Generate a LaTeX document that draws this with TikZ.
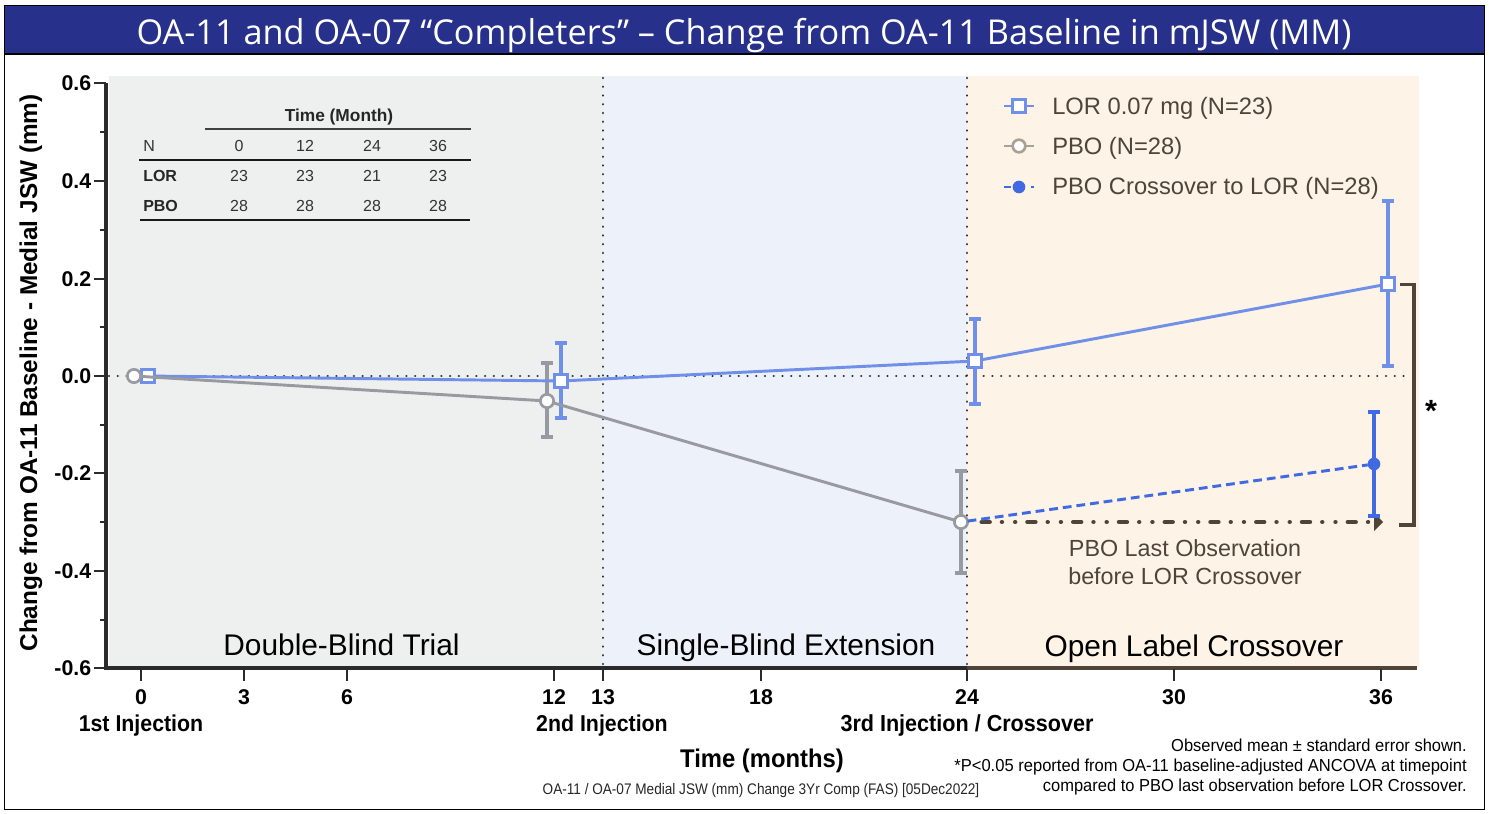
\documentclass[tikz,border=0pt]{standalone}
\usepackage{fontspec}
\setmainfont{Liberation Sans}
\newfontfamily\titlefont{Open Sans}
\usetikzlibrary{arrows.meta}
\definecolor{band}{HTML}{27318B}
\definecolor{bggray}{HTML}{EEF0EF}
\definecolor{bgblue}{HTML}{EDF1FA}
\definecolor{bgorange}{HTML}{FDF3E7}
\definecolor{lorblue}{HTML}{6F8FE8}
\definecolor{crossblue}{HTML}{4169E1}
\definecolor{pbogray}{HTML}{989AA2}
\definecolor{leggray}{HTML}{A8A294}
\definecolor{brown}{HTML}{4F4437}
\definecolor{axisdark}{HTML}{2B2B2B}
\newcommand{\sq}[2]{\scalebox{#1}[1]{#2}}
\tikzset{
 x=0.75pt,y=-0.75pt,
 tick/.style={font=\fontsize{16}{16}\selectfont\bfseries,inner sep=0pt,text=black},
 phase/.style={inner sep=0pt,anchor=base,font=\fontsize{22.4}{25}\selectfont,text=black},
 legtxt/.style={inner sep=0pt,anchor=west,font=\fontsize{17.8}{20}\selectfont,text=brown},
 tab/.style={inner sep=0pt,font=\fontsize{12}{14}\selectfont,text=black!80},
 tabb/.style={tab,font=\fontsize{12}{14}\selectfont\bfseries,text=black!85},
 foot/.style={inner sep=0pt,anchor=east,font=\fontsize{13}{15}\selectfont,text=black},
 lormark/.style={draw=lorblue,fill=white,line width=2.2pt,rectangle,minimum size=10pt,inner sep=0pt,outer sep=0pt},
 pbomark/.style={draw=pbogray,fill=white,line width=2pt,circle,minimum size=10pt,inner sep=0pt,outer sep=0pt},
 crossmark/.style={fill=crossblue,circle,minimum size=9.5pt,inner sep=0pt,outer sep=0pt},
 lorline/.style={draw=lorblue,line width=2.2pt},
 pboline/.style={draw=pbogray,line width=2.2pt},
 crossline/.style={draw=crossblue,line width=2.2pt},
 lorbar/.style={draw=lorblue,line width=2.4pt},
 pbobar/.style={draw=pbogray,line width=2.4pt},
 crossbar/.style={draw=crossblue,line width=2.4pt},
 vdots/.style={draw=axisdark,line width=1.9pt,line cap=round,dash pattern=on 0.01pt off 6.55pt},
 axis/.style={draw=axisdark,line width=2.6pt},
 tk/.style={draw=axisdark,line width=2.1pt},
 rulel/.style={draw=black!75,line width=1pt},
}
\begin{document}
\begin{tikzpicture}
\useasboundingbox (0,0) rectangle (1489,814);
\fill[white] (0,0) rectangle (1489,814);
% backgrounds
\fill[bggray] (109,76) rectangle (603,668);
\fill[bgblue] (603,76) rectangle (967,668);
\fill[bgorange] (967,76) rectangle (1419,668);
% frame and title
\fill[band] (4,6) rectangle (1484,54);
\draw[black,line width=1.3pt] (4.5,5.5) rectangle (1484.5,809.5);
\draw[black,line width=1.5pt] (4,54) -- (1484,54);
\node[inner sep=0pt,text=white,font=\titlefont\fontsize{25.7}{28}\selectfont] (title) at (744,36) {OA-11 and OA-07 “Completers” – Change from OA-11 Baseline in mJSW (MM)};
% dotted reference lines
\coordinate (z0) at (109,376); \coordinate (z1) at (1412,376);
\coordinate (v1t) at (603,78); \coordinate (v1b) at (603,668);
\coordinate (v2t) at (967,78); \coordinate (v2b) at (967,668);
\draw[vdots] (z0) -- (z1);
\draw[vdots] (v1t) -- (v1b);
\draw[vdots] (v2t) -- (v2b);
% axes
\coordinate (yt) at (106,83); \coordinate (yb) at (106,669.5);
\coordinate (xl) at (106,668); \coordinate (xm2) at (967,668); \coordinate (xr) at (1417,668);
\draw[axis] (yt) -- (yb);
\draw[axis] (xl) -- (xm2);
\draw[draw=brown,line width=2.6pt] (xm2) -- (xr);
% y ticks and labels
\foreach \v/\yy/\n in {0.6/83/a,0.4/181/b,0.2/279/c,0.0/376/d,-0.2/473/e,-0.4/571/f,-0.6/668/g}{
  \node[tick,anchor=east] (yl\n) at (91.5,\yy+0.5) {\v};
  \draw[tk] (94,\yy) -- (106,\yy);
}
\foreach \yy in {132,230,327,425,522,620}{ \draw[tk] (100,\yy) -- (106,\yy); }
% x ticks and labels
\foreach \m/\xx in {0/141,3/244,6/347,12/554,13/603,18/761,24/967,30/1174,36/1381}{
  \draw[tk] (\xx,669) -- (\xx,681);
  \node[tick] (xl\m) at (\xx,697) {\m};
}
\node[tick] (inj1) at (141,726) {\fontsize{17.2}{17}\selectfont\sq{.93}{1st Injection}};
\node[tick] (inj2) at (602,726) {\fontsize{17.2}{17}\selectfont\sq{.93}{2nd Injection}};
\node[tick] (inj3) at (967,725) {\fontsize{17.4}{17}\selectfont\sq{.93}{3rd Injection / Crossover}};
\node[inner sep=0pt,font=\fontsize{19.2}{20}\selectfont\bfseries] (xtitle) at (762,761) {\sq{.93}{Time (months)}};
\node[inner sep=0pt,rotate=90,font=\fontsize{18.25}{20}\selectfont\bfseries] (ytitle) at (31,373) {Change from OA-11 Baseline - Medial JSW (mm)};
% phase labels
\node[phase] (ph1) at (341.5,655) {Double-Blind Trial};
\node[phase] (ph2) at (786,655) {Single-Blind Extension};
\node[phase] (ph3) at (1194,656) {Open Label Crossover};
% table
\node[tabb,font=\fontsize{13}{14}\selectfont\bfseries] (th) at (339,117) {Time (Month)};
\draw[rulel] (205,129) -- (471,129);
\node[tab,anchor=west] (tn) at (143,146) {N};
\foreach \c/\xx in {0/239,12/305,24/372,36/438}{ \node[tab] (tc\c) at (\xx,146) {\c}; }
\draw[rulel,line width=1.2pt,draw=black!90] (139,160) -- (471,160);
\node[tabb,anchor=west] (tl) at (143,176) {LOR};
\node[tabb,anchor=west] (tp) at (143,206) {PBO};
\foreach \a/\xx/\t in {a/239/23,b/305/23,c/372/21,d/438/23}{ \node[tab] (tr1\a) at (\xx,176) {\t}; }
\foreach \a/\xx/\t in {a/239/28,b/305/28,c/372/28,d/438/28}{ \node[tab] (tr2\a) at (\xx,206) {\t}; }
\draw[rulel,line width=1.2pt,draw=black!90] (140,220) -- (470,220);
% last-observation arrow
\node[pbomark] (p24) at (961,522) {};
\coordinate (loEnd) at (1375,522);
\draw[draw=brown,line width=3.3pt,line cap=round,dash pattern=on 6pt off 9.2pt on 0.01pt off 9.9pt on 0.01pt off 9.2pt] (p24.east)++(14,0) -- (loEnd);
\fill[brown] (1374,513) -- (1383,522) -- (1374,531) -- cycle;
% data markers
\node[lormark] (l0) at (148,376) {};
\node[lormark] (l12) at (561,381) {};
\node[lormark] (l24) at (975,361) {};
\node[lormark] (l36) at (1388,284) {};
\node[pbomark] (p0) at (134,376) {};
\node[pbomark] (p12) at (547,401) {};
\node[crossmark] (c36) at (1374,464) {};
% error bars
\foreach \n/\xx/\tp/\bt in {l12/561/343/418,l24/975/319/404,l36/1388/201/366}{
  \coordinate (\n t) at (\xx,\tp); \coordinate (\n b) at (\xx,\bt);
  \draw[lorbar] (\n t) -- (\n); \draw[lorbar] (\n) -- (\n b);
  \draw[lorbar] (\xx-6,\tp) -- (\xx+6,\tp); \draw[lorbar] (\xx-6,\bt) -- (\xx+6,\bt);
}
\foreach \n/\xx/\tp/\bt in {p12/547/363/437,p24/961/471/573}{
  \coordinate (\n t) at (\xx,\tp); \coordinate (\n b) at (\xx,\bt);
  \draw[pbobar] (\n t) -- (\n); \draw[pbobar] (\n) -- (\n b);
  \draw[pbobar] (\xx-6,\tp) -- (\xx+6,\tp); \draw[pbobar] (\xx-6,\bt) -- (\xx+6,\bt);
}
\coordinate (c36t) at (1374,412); \coordinate (c36b) at (1374,516);
\draw[crossbar] (c36t) -- (c36); \draw[crossbar] (c36) -- (c36b);
\draw[crossbar] (1368,412) -- (1380,412); \draw[crossbar] (1368,516) -- (1380,516);
% series
\draw[lorline] (l0) -- (l12);
\draw[lorline] (l12) -- (l24);
\draw[lorline] (l24) -- (l36);
\draw[pboline] (p0) -- (p12);
\draw[pboline] (p12) -- (p24);
\draw[crossline,dash pattern=on 6.6pt off 3.7pt] (p24) -- (c36);
% significance bracket
\coordinate (brA) at (1400,284.5); \coordinate (brB) at (1414,284.5); \coordinate (brC) at (1414,525); \coordinate (brD) at (1399,525);
\draw[draw=brown,line width=2.9pt] (brA) -- (brB) -- (brC) -- (brD);
\node[inner sep=0pt,font=\fontsize{23}{23}\selectfont\bfseries] (star) at (1431,411) {*};
% annotation
\node[inner sep=0pt,align=center,text=brown,font=\fontsize{17.5}{21}\selectfont] (lo) at (1185,562) {PBO Last Observation\\before LOR Crossover};
% legend
\coordinate (la) at (1004,106); \coordinate (lb) at (1034,106);
\coordinate (lc) at (1004,146); \coordinate (ld) at (1034,146);
\node[lormark,minimum size=9.5pt] (lm1) at (1019,106) {};
\node[pbomark,draw=leggray,minimum size=9.5pt] (lm2) at (1019,146) {};
\node[crossmark] (lm3) at (1019,187) {};
\draw[lorline] (la) -- (lm1); \draw[lorline] (lm1) -- (lb);
\draw[draw=leggray,line width=2.2pt] (lc) -- (lm2); \draw[draw=leggray,line width=2.2pt] (lm2) -- (ld);
\coordinate (le) at (1004,187); \coordinate (lf) at (1011,187); \coordinate (lg) at (1031,187); \coordinate (lh) at (1033.5,187);
\draw[crossline] (le) -- (lf); \draw[crossline] (lg) -- (lh);
\node[legtxt] (lt1) at (1052,108) {LOR 0.07 mg (N=23)};
\node[legtxt] (lt2) at (1052,148) {PBO (N=28)};
\node[legtxt] (lt3) at (1052,188) {PBO Crossover to LOR (N=28)};
% footnotes
\node[foot] (f1) at (1467,745) {\sq{.95}{Observed mean ± standard error shown.}};
\node[foot] (f2) at (1467,767) {\sq{.955}{*P<0.05 reported from OA-11 baseline-adjusted ANCOVA at timepoint}};
\node[foot] (f3) at (1467,787) {\sq{.95}{compared to PBO last observation before LOR Crossover.}};
\node[inner sep=0pt,font=\fontsize{11.5}{13}\selectfont,text=black!85] (src) at (761,791) {\sq{.887}{OA-11 / OA-07 Medial JSW (mm) Change 3Yr Comp (FAS) [05Dec2022]}};
\end{tikzpicture}
\end{document}
